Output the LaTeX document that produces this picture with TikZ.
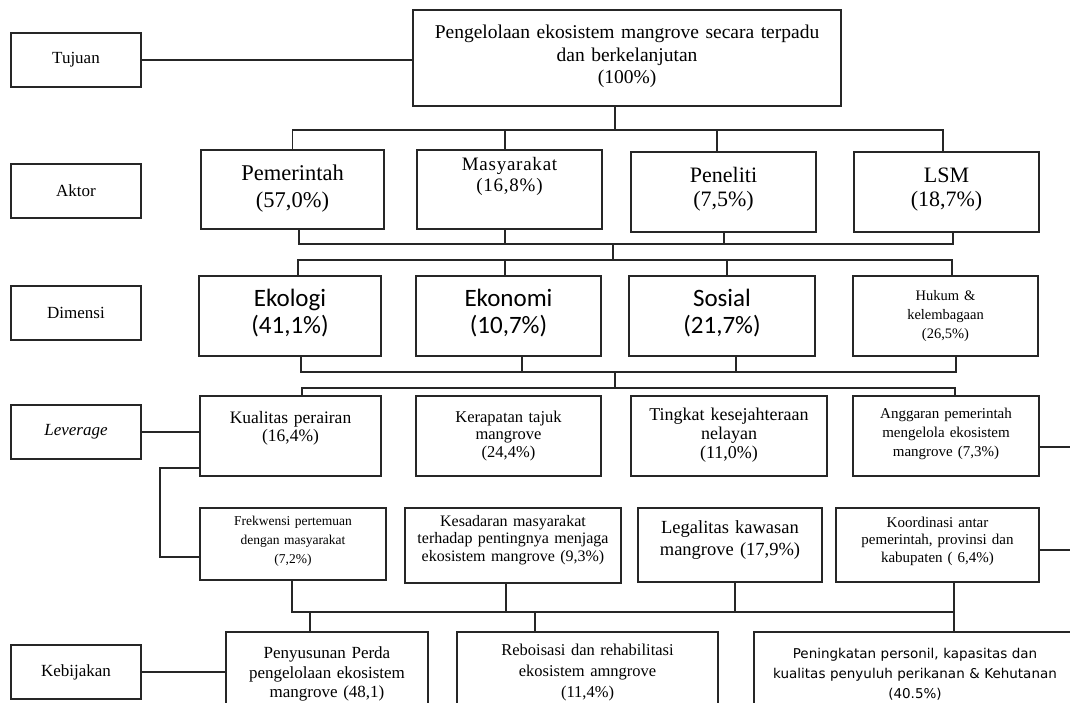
\documentclass[tikz,border=0pt]{standalone}
\usepackage{fontspec}
\setmainfont{Liberation Serif}
\newfontfamily\calibrifont{Carlito}
\newfontfamily\verdanafont{DejaVu Sans}
\usetikzlibrary{calc}

\tikzset{
  box/.style={draw=black!85, line width=1.3pt, anchor=north west, inner xsep=3pt, inner ysep=0pt, outer sep=0pt, align=center},
  boxsize/.style n args={3}{minimum width=#1pt, text width=#1pt-6pt, minimum height=#2pt, text height=#3pt, text depth=#2pt-#3pt},
  tier/.style={box, minimum width=130pt, minimum height=54pt, font=\fontsize{17}{20}\selectfont},
  fs/.style 2 args={font=\fontsize{#1}{#2}\selectfont},
  cal/.style={font=\calibrifont\fontsize{25}{27}\selectfont},
  link/.style={draw=black!85, line width=1.3pt},
}

\begin{document}
\begin{tikzpicture}[x=1pt, y=-1pt]
        \useasboundingbox (0,0) rectangle (1070,702);
        \fill[white] (0,0) rectangle (1070,702);
        \clip (0,0) rectangle (1070,702);

        % Level labels on the left
        \node[tier] (tuj) at (11,33) {Tujuan};
        \node[tier] (akt) at (11,164) {Aktor};
        \node[tier] (dim) at (11,286) {Dimensi};
        \node[tier] (lev) at (11,405) {\itshape Leverage};
        \node[tier] (keb) at (11,645) {Kebijakan};

        % Goal
        \node[box, boxsize={428}{96}{28.5}, fs={19.5}{22.5}] (goal) at (413,10)
            {Pengelolaan ekosistem mangrove secara terpadu\\dan berkelanjutan\\(100\%)};

        % Actors
        \node[box, boxsize={183}{79}{30.5}, fs={22.5}{27}] (pem) at (201,150) {Pemerintah\\(57,0\%)};
        \node[box, boxsize={185}{79}{20}, font=\fontsize{19}{21}\selectfont\addfontfeature{LetterSpace=4}] (mas) at (417,150) {Masyarakat\\(16,8\%)};
        \node[box, boxsize={185}{80}{30}, fs={22}{24}] (pen) at (631,152) {Peneliti\\(7,5\%)};
        \node[box, boxsize={185}{80}{30}, fs={22}{24}] (lsm) at (854,152) {LSM\\(18,7\%)};

        % Dimensions
        \node[box, boxsize={182}{80}{30.5}, cal] (eko) at (199,276) {Ekologi\\(41,1\%)};
        \node[box, boxsize={185}{80}{30.5}, cal] (ekn) at (416,276) {Ekonomi\\(10,7\%)};
        \node[box, boxsize={186}{80}{30.5}, cal] (sos) at (629,276) {Sosial\\(21,7\%)};
        \node[box, boxsize={185}{80}{24}, fs={14.5}{19}] (huk) at (853,276) {Hukum \&\\kelembagaan\\(26,5\%)};

        % Leverage factors
        \node[box, boxsize={181}{80}{27.5}, fs={17.5}{18}] (kual) at (200,396) {Kualitas perairan\\(16,4\%)};
        \node[box, boxsize={185}{80}{26}, fs={16.5}{17.5}] (ker) at (416,396) {Kerapatan tajuk\\mangrove\\(24,4\%)};
        \node[box, boxsize={196}{80}{24}, fs={18}{19}] (tkt) at (631,396) {Tingkat kesejahteraan\\nelayan\\(11,0\%)};
        \node[box, boxsize={186}{80}{22}, fs={15}{19}] (ang) at (853,396) {Anggaran pemerintah\\mengelola ekosistem\\mangrove (7,3\%)};

        \node[box, boxsize={186}{72}{17.5}, fs={13.5}{19}] (frek) at (200,508) {Frekwensi pertemuan\\dengan masyarakat\\(7,2\%)};
        \node[box, boxsize={216}{75}{18}, fs={16}{17.5}] (kes) at (405,508) {Kesadaran masyarakat\\terhadap pentingnya menjaga\\ekosistem mangrove (9,3\%)};
        \node[box, boxsize={184}{74}{25}, fs={18.5}{22}] (leg) at (638,508) {Legalitas kawasan\\mangrove (17,9\%)};
        \node[box, boxsize={203}{74}{19}, fs={15}{17.5}] (koo) at (836,508) {Koordinasi antar\\pemerintah, provinsi dan\\kabupaten ( 6,4\%)};

        % Policies
        \node[box, boxsize={202}{90}{26.5}, fs={17}{19.5}] (pen2) at (226,632) {Penyusunan Perda\\pengelolaan ekosistem\\mangrove (48,1)};
        \node[box, boxsize={261}{90}{23.5}, fs={16.5}{21}] (reb) at (457,632) {Reboisasi dan rehabilitasi\\ekosistem amngrove\\(11,4\%)};
        \node[box, boxsize={322}{90}{26}, font=\verdanafont\fontsize{13.5}{20}\selectfont] (ptk) at (754,632) {Peningkatan personil, kapasitas dan\\kualitas penyuluh perikanan \& Kehutanan\\(40.5\%)};

        % Goal to actors
        \draw[link] (tuj.east) -- (tuj.east -| goal.west);
        \coordinate (busA) at (615,130);
        \draw[link] (goal.south -| busA) -- (busA);
        \foreach \n/\dx in {pem/0, mas/-4.5, pen/-6.5, lsm/-3.5}
            \draw[link] ([xshift=\dx pt]\n.north) |- (busA);

        % Actors to dimensions
        \coordinate (busB) at (613,244);
        \coordinate (busC) at (613,260);
        \draw[link] (busB) -- (busC);
        \foreach \n/\dx in {pem/6.5, mas/-4.5, pen/0.5, lsm/6.5}
            \draw[link] ([xshift=\dx pt]\n.south) |- (busB);
        \foreach \n/\dx in {eko/8, ekn/-3.5, sos/5, huk/6.5}
            \draw[link] ([xshift=\dx pt]\n.north) |- (busC);

        % Dimensions to leverage
        \coordinate (busD) at (615,372);
        \coordinate (busE) at (615,388);
        \draw[link] (busD) -- (busE);
        \foreach \n/\dx in {eko/11, ekn/13.5, sos/14, huk/10.5}
            \draw[link] ([xshift=\dx pt]\n.south) |- (busD);
        \foreach \n/\dx in {kual/11.5, ang/9}
            \draw[link] ([xshift=\dx pt]\n.north) |- (busE);

        \draw[link] (lev.east) -- (lev.east -| kual.west);
        \draw[link] ([yshift=8pt]kual.south west) -- ++(-40,0) |- ([yshift=-13pt]frek.west);

        % Lines running off the right edge
        \coordinate (edgeA) at (1072,447);
        \coordinate (edgeB) at (1072,550);
        \draw[link] (ang.east |- edgeA) -- (edgeA);
        \draw[link] (koo.east |- edgeB) -- (edgeB);

        % Leverage to policies
        \coordinate (busF) at (624,612);
        \foreach \n/\dx in {frek/-1, kes/-7, leg/5, koo/16.5}
            \draw[link] ([xshift=\dx pt]\n.south) |- (busF);
        \foreach \n/\dx in {pen2/-17, reb/-52.5, ptk/39}
            \draw[link] ([xshift=\dx pt]\n.north) |- (busF);
        \draw[link] (keb.east) -- (keb.east -| pen2.west);
\end{tikzpicture}
\end{document}
